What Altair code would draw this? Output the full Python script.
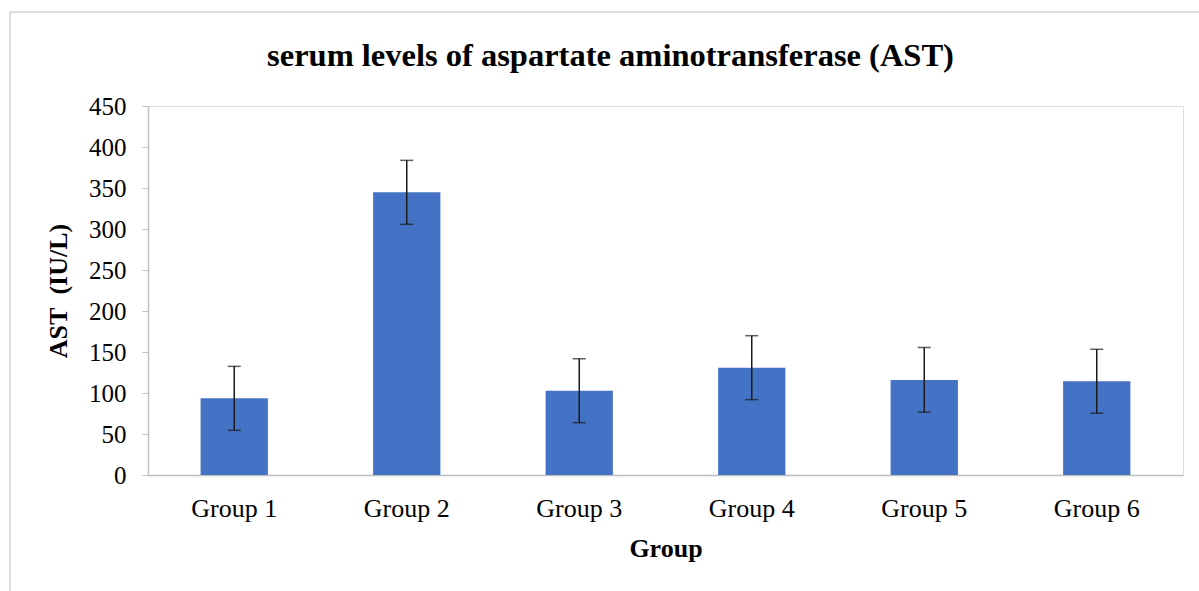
import altair as alt
import pandas as pd

groups = ["Group 1", "Group 2", "Group 3", "Group 4", "Group 5", "Group 6"]
ast_mean = [93.5, 344.7, 102.8, 130.9, 116.0, 114.3]
ast_err = [39.0, 39.0, 39.0, 39.0, 39.5, 39.0]

df = pd.DataFrame({"group": groups, "ast": ast_mean, "err": ast_err})
df["lo"] = df["ast"] - df["err"]
df["hi"] = df["ast"] + df["err"]

FONT = "Liberation Serif"
W, H = 1035, 369

x = alt.X("group:N", sort=groups,
          scale=alt.Scale(paddingInner=0.61, paddingOuter=0.305),
          axis=alt.Axis(title="Group", ticks=False, labelAngle=0, labelPadding=20,
                        labelFontSize=26, labelFont=FONT, labelColor="#000000",
                        titleFont=FONT, titleFontSize=26, titleFontWeight="bold",
                        titleColor="#000000", titleY=73, titleBaseline="middle",
                        domainColor="#bfbfbf", domainWidth=1.5))
y_axis = alt.Axis(title="AST\u00a0 (IU/L)", values=list(range(0, 451, 50)), grid=False,
                  tickSize=6, tickColor="#bfbfbf", domainColor="#bfbfbf", domainWidth=1.5,
                  labelFontSize=25, labelFont=FONT, labelColor="#000000", labelPadding=16,
                  titleFont=FONT, titleFontSize=26, titleFontWeight="bold", titleColor="#000000",
                  titleAngle=-90, titleX=-90, titleY=H / 2, titleAlign="center",
                  titleBaseline="middle")

base = alt.Chart(df)
bars = base.mark_bar(color="#4472C4").encode(
    x=x,
    y=alt.Y("ast:Q", scale=alt.Scale(domain=[0, 450], nice=False), axis=y_axis),
)
rules = base.mark_rule(color="#1a1a1a", strokeWidth=1.5).encode(
    x=alt.X("group:N", sort=groups), y="lo:Q", y2="hi:Q")
cap_hi = base.mark_tick(color="#1a1a1a", thickness=1.5, size=13, orient="horizontal").encode(
    x=alt.X("group:N", sort=groups), y="hi:Q")
cap_lo = base.mark_tick(color="#1a1a1a", thickness=1.5, size=13, orient="horizontal").encode(
    x=alt.X("group:N", sort=groups), y="lo:Q")

border_left = alt.Chart(pd.DataFrame({"a": [0]})).mark_rule(color="#d0d0d0", strokeWidth=1.5).encode(
    x=alt.value(-138), y=alt.value(-94), y2=alt.value(H + 120))
border_top = alt.Chart(pd.DataFrame({"a": [0]})).mark_rule(color="#d0d0d0", strokeWidth=1.5).encode(
    x=alt.value(-138), x2=alt.value(W + 20), y=alt.value(-94))

chart = alt.layer(bars, rules, cap_hi, cap_lo, border_left, border_top).properties(
    width=W, height=H,
    title=alt.TitleParams("serum levels of aspartate aminotransferase (AST)",
                          font=FONT, fontSize=32.5, fontWeight="bold", color="#000000",
                          anchor="middle", dx=-55, offset=-61),
    padding={"left": 148, "top": 106, "right": 16, "bottom": 116},
    autosize=alt.AutoSizeParams(type="none"),
).configure_view(stroke=None).configure(background="white")

chart.save("out.html", embed_options={"renderer": "svg", "actions": False})
